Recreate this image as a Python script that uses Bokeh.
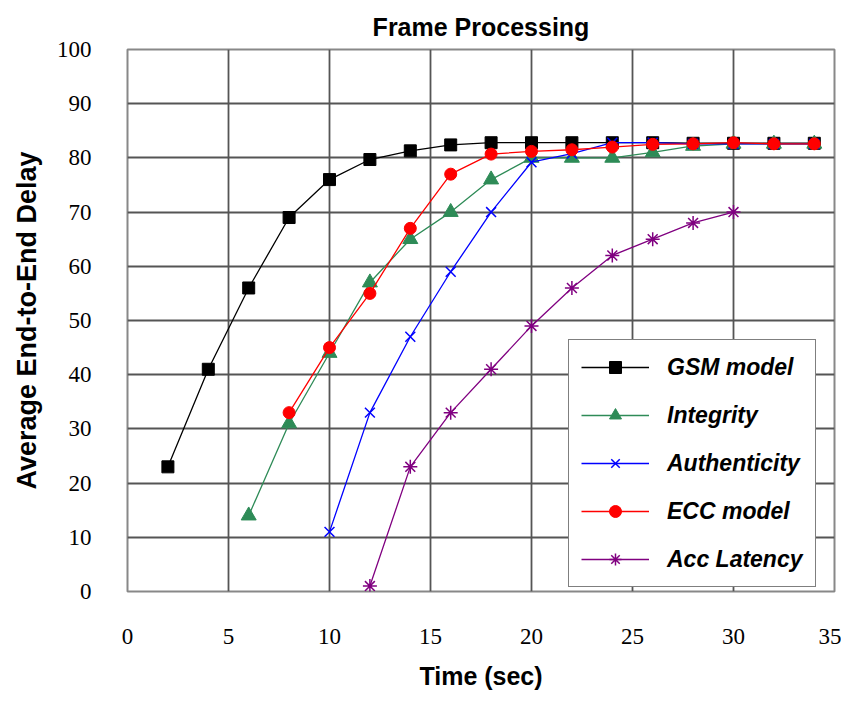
from bokeh.plotting import figure
from bokeh.models import Range1d, FixedTicker, Legend
from bokeh.embed import file_html
from bokeh.resources import INLINE

# ---- data ----
gsm_x = [2, 4, 6, 8, 10, 12, 14, 16, 18, 20, 22, 24, 26, 28, 30, 32, 34]
gsm_y = [23, 41, 56, 69, 76, 79.7, 81.3, 82.4, 82.8, 82.8, 82.8, 82.8, 82.8, 82.7, 82.7, 82.7, 82.7]

int_x = [6, 8, 10, 12, 14, 16, 18, 20, 22, 24, 26, 28, 30, 32, 34]
int_y = [14, 31, 44, 57, 65, 70, 76, 80, 80, 80, 81, 82.2, 82.6, 82.6, 82.6]

auth_x = [10, 12, 14, 16, 18, 20, 22, 24, 26, 28, 30, 32, 34]
auth_y = [11, 33, 47, 59, 70, 79.2, 80.8, 82.8, 82.8, 82.6, 82.6, 82.6, 82.6]

ecc_x = [8, 10, 12, 14, 16, 18, 20, 22, 24, 26, 28, 30, 32, 34]
ecc_y = [33, 45, 55, 67, 77, 80.7, 81.2, 81.5, 82, 82.5, 82.6, 82.8, 82.6, 82.6]

acc_x = [12, 14, 16, 18, 20, 22, 24, 26, 28, 30]
acc_y = [1, 23, 33, 41, 49, 56, 62, 65, 68, 70]

x_ticks = [0, 5, 10, 15, 20, 25, 30, 35]
y_ticks = [0, 10, 20, 30, 40, 50, 60, 70, 80, 90, 100]

p = figure(width=841, height=693, output_backend="svg", toolbar_location=None,
           x_range=Range1d(0, 35), y_range=Range1d(0, 100),
           min_border_left=127, min_border_right=7, min_border_top=49, min_border_bottom=102,
           title="Frame Processing")

p.title.align = "center"
p.title.text_font = "Liberation Sans"
p.title.text_font_size = "25px"
p.title.text_font_style = "bold"
p.title.text_color = "black"
p.title.standoff = 17

p.outline_line_color = "#888888"
p.outline_line_width = 2

for g in (p.xgrid, p.ygrid):
    g.grid_line_color = "#555555"
    g.grid_line_width = 1.8
p.xgrid.ticker = FixedTicker(ticks=x_ticks)
p.ygrid.ticker = FixedTicker(ticks=y_ticks)

p.xaxis.ticker = FixedTicker(ticks=x_ticks)
p.yaxis.ticker = FixedTicker(ticks=y_ticks)
for ax in (p.xaxis, p.yaxis):
    ax.axis_line_color = None
    ax.major_tick_line_color = None
    ax.minor_tick_line_color = None
    ax.major_label_text_font = "Liberation Serif"
    ax.major_label_text_font_size = "23px"
    ax.major_label_text_color = "black"
    ax.axis_label_text_font = "Liberation Sans"
    ax.axis_label_text_font_style = "bold"
    ax.axis_label_text_color = "black"

p.xaxis.major_label_standoff = 31
p.yaxis.major_label_standoff = 30
p.xaxis.axis_label = "Time (sec)"
p.xaxis.axis_label_text_font_size = "25px"
p.xaxis.axis_label_standoff = 15
p.yaxis.axis_label = "Average End-to-End Delay"
p.yaxis.axis_label_text_font_size = "27px"
p.yaxis.axis_label_standoff = 12

items = []
series = [
    ("GSM model", gsm_x, gsm_y, "black", "square", 12),
    ("Integrity", int_x, int_y, "#2e8b57", "triangle", 15),
    ("Authenticity", auth_x, auth_y, "blue", "x", 14),
    ("ECC model", ecc_x, ecc_y, "red", "circle", 12),
    ("Acc Latency", acc_x, acc_y, "purple", "asterisk", 14),
]
for name, xs, ys, col, mk, sz in series:
    r1 = p.line(xs, ys, line_color=col, line_width=1.3)
    if mk in ("x", "asterisk"):
        r2 = p.scatter(xs, ys, marker=mk, size=sz, line_color=col, line_width=1.5)
    else:
        r2 = p.scatter(xs, ys, marker=mk, size=sz, fill_color=col, line_color=col)
    items.append((name, [r1, r2]))

legend = Legend(items=items, location=(441, 4))
legend.label_text_font = "Liberation Sans"
legend.label_text_font_style = "bold italic"
legend.label_text_font_size = "23px"
legend.label_text_color = "black"
legend.glyph_width = 68
legend.glyph_height = 30
legend.label_standoff = 18
legend.spacing = 18
legend.padding = 12
legend.margin = 0
legend.border_line_color = "black"
legend.border_line_width = 1.5
legend.background_fill_color = "white"
legend.background_fill_alpha = 1
p.add_layout(legend, "center")

open("out.html", "w").write(file_html(p, INLINE))
